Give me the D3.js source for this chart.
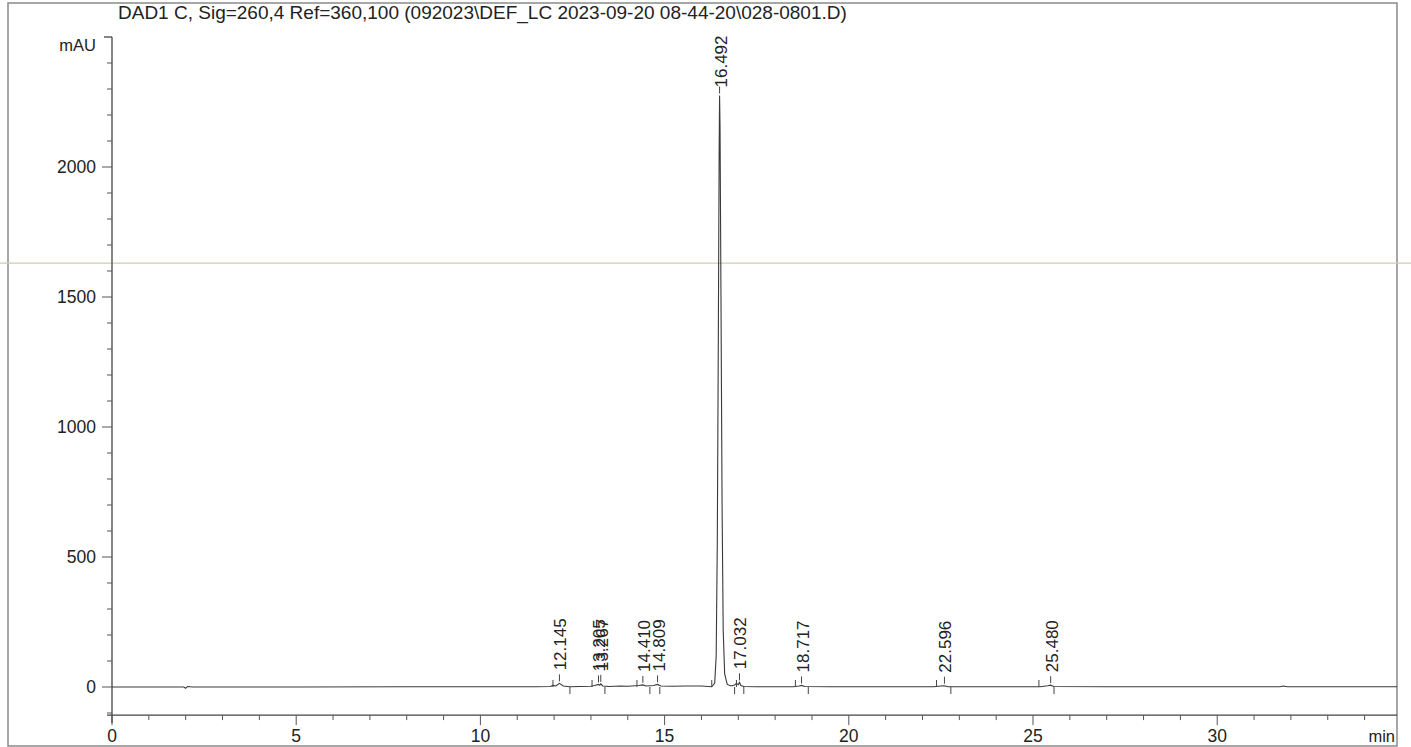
<!DOCTYPE html>
<html>
<head>
<meta charset="utf-8">
<script src="https://cdn.jsdelivr.net/npm/d3@7"></script>
<style>
  body { margin: 0; background: #fff; }
  svg { display: block; }
  text { font-family: "Liberation Sans", Arial, sans-serif; fill: #222; }
</style>
</head>
<body>
<div id="canvas"></div>
<script>
const title = "DAD1 C, Sig=260,4 Ref=360,100 (092023\\DEF_LC 2023-09-20 08-44-20\\028-0801.D)";

// signal trace (min, mAU)
const times = [0, 1.95, 2.0, 2.05, 2.12, 2.2, 5, 8, 10, 11.5, 11.9, 11.97, 12.05, 12.145, 12.25, 12.43,
  12.7, 13.0, 13.1, 13.205, 13.24, 13.267, 13.32, 13.5, 13.8, 14.0, 14.2, 14.3, 14.41, 14.5, 14.6,
  14.7, 14.809, 14.9, 15.2, 15.6, 16.0, 16.28, 16.36, 16.40, 16.43, 16.46, 16.48, 16.492, 16.505,
  16.53, 16.56, 16.59, 16.63, 16.7, 16.8, 16.9, 16.95, 17.0, 17.032, 17.07, 17.15, 17.5, 18.5,
  18.65, 18.717, 18.8, 19.5, 22.3, 22.5, 22.596, 22.7, 23.5, 25.2, 25.4, 25.48, 25.56, 27,
  31.7, 31.8, 31.9, 34.88];
const signal = [0, 0, -5, 2, 1, 0, 0, 1, 1, 1, 2, 6, 4, 14, 4, 1,
  2, 3, 6, 10, 7, 12, 4, 2, 4, 3, 5, 6, 8, 4, 5,
  6, 10, 4, 3, 4, 4, 1, 15, 120, 550, 1400, 2050, 2275, 2150,
  1500, 700, 220, 50, 10, 4, 8, 14, 9, 18, 6, 2, 1, 1,
  4, 6, 2, 1, 1, 4, 5, 1, 1, 1, 5, 7, 2, 1,
  1, 4, 1, 1];

// integrated peaks
const peakTimes = [12.145, 13.205, 13.267, 14.410, 14.809, 16.492, 17.032, 18.717, 22.596, 25.480];
const peakHeights = [14, 10, 12, 8, 10, 2275, 18, 6, 5, 7];
const peakStarts = [11.97, 13.03, 14.25, 16.28, 16.95, 18.55, 22.38, 25.16];
const peakEnds = [12.43, 13.38, 14.6, 14.87, 16.9, 17.15, 18.9, 22.77, 25.57];

const xTicks = [0, 5, 10, 15, 20, 25, 30];
const yTicks = [0, 500, 1000, 1500, 2000];

const W = 1411, H = 747;
const svg = d3.select('#canvas').append('svg').attr('width', W).attr('height', H);

const x = d3.scaleLinear().domain([0, 34.88]).range([112, 1397]);
const y = d3.scaleLinear().domain([0, 2500]).range([687, 37]);
const yAxisBottom = -108;

// frame
svg.append('rect')
   .attr('x', 8).attr('y', 3).attr('width', 1389).attr('height', 743)
   .attr('fill', 'none').attr('stroke', '#8a8a8a').attr('stroke-width', 1.5);

// faint scan line across the sheet
svg.append('line')
   .attr('x1', 0).attr('x2', W).attr('y1', y(1630)).attr('y2', y(1630))
   .attr('stroke', '#cfcdb0').attr('stroke-width', 1.2);

svg.append('text')
   .attr('x', 118).attr('y', 19)
   .attr('font-size', 19)
   .text(title);

// y axis
const yAxis = svg.append('g');
yAxis.append('line')
   .attr('x1', x(0)).attr('x2', x(0))
   .attr('y1', y(2500)).attr('y2', y(yAxisBottom) + 8)
   .attr('stroke', '#444').attr('stroke-width', 1.3);
yAxis.append('line')
   .attr('x1', x(0) - 8).attr('x2', x(0))
   .attr('y1', y(2500)).attr('y2', y(2500))
   .attr('stroke', '#444').attr('stroke-width', 1.3);
yAxis.selectAll('.ymin')
   .data(d3.range(-100, 2500, 100).filter(v => v > yAxisBottom && v % 500 !== 0))
   .enter().append('line')
   .attr('x1', x(0) - 5).attr('x2', x(0))
   .attr('y1', d => y(d)).attr('y2', d => y(d))
   .attr('stroke', '#555');
yAxis.selectAll('.ymaj')
   .data(yTicks)
   .enter().append('line')
   .attr('x1', x(0) - 10).attr('x2', x(0))
   .attr('y1', d => y(d)).attr('y2', d => y(d))
   .attr('stroke', '#555');
yAxis.selectAll('.ylab')
   .data(yTicks)
   .enter().append('text')
   .attr('x', x(0) - 16).attr('y', d => y(d))
   .attr('dy', '0.35em')
   .attr('text-anchor', 'end')
   .attr('font-size', 17.5)
   .text(d => d);
svg.append('text')
   .attr('x', 96).attr('y', 51)
   .attr('text-anchor', 'end')
   .attr('font-size', 16.5)
   .text('mAU');

// x axis
const xAxis = svg.append('g');
xAxis.append('line')
   .attr('x1', x(0) - 5).attr('x2', x(34.88))
   .attr('y1', y(yAxisBottom)).attr('y2', y(yAxisBottom))
   .attr('stroke', '#444').attr('stroke-width', 1.3);
xAxis.selectAll('.xmin')
   .data(d3.range(1, 35).filter(v => v % 5 !== 0))
   .enter().append('line')
   .attr('x1', d => x(d)).attr('x2', d => x(d))
   .attr('y1', y(yAxisBottom)).attr('y2', y(yAxisBottom) + 5)
   .attr('stroke', '#555');
xAxis.selectAll('.xmaj')
   .data(xTicks)
   .enter().append('line')
   .attr('x1', d => x(d)).attr('x2', d => x(d))
   .attr('y1', y(yAxisBottom)).attr('y2', y(yAxisBottom) + 10)
   .attr('stroke', '#555');
xAxis.selectAll('.xlab')
   .data(xTicks)
   .enter().append('text')
   .attr('x', d => x(d)).attr('y', 742)
   .attr('text-anchor', 'middle')
   .attr('font-size', 17.5)
   .text(d => d);
svg.append('text')
   .attr('x', 1395).attr('y', 742)
   .attr('text-anchor', 'end')
   .attr('font-size', 16.5)
   .text('min');

// trace
const line = d3.line()
   .x((d, i) => x(times[i]))
   .y(d => y(d));
svg.append('path')
   .datum(signal)
   .attr('d', line)
   .attr('fill', 'none')
   .attr('stroke', '#3a3a3a')
   .attr('stroke-width', 1.1);

// baseline markers
svg.selectAll('.pstart')
   .data(peakStarts)
   .enter().append('line')
   .attr('x1', d => x(d)).attr('x2', d => x(d))
   .attr('y1', y(0) - 7).attr('y2', y(0))
   .attr('stroke', '#444');
svg.selectAll('.pend')
   .data(peakEnds)
   .enter().append('line')
   .attr('x1', d => x(d)).attr('x2', d => x(d))
   .attr('y1', y(0)).attr('y2', y(0) + 7)
   .attr('stroke', '#444');

// peak labels
const peaks = peakTimes.map((t, i) => ({ t: t, h: peakHeights[i] }));
svg.selectAll('.ptick')
   .data(peaks)
   .enter().append('line')
   .attr('x1', d => x(d.t)).attr('x2', d => x(d.t))
   .attr('y1', d => y(d.h) - 2).attr('y2', d => y(d.h) - 9)
   .attr('stroke', '#444');
svg.selectAll('.plab')
   .data(peaks)
   .enter().append('text')
   .attr('transform', d => `translate(${x(d.t) + 7},${y(d.h) - (d.h > 100 ? 8 : 13)}) rotate(-90)`)
   .attr('font-size', 17)
   .text(d => d.t.toFixed(3));
</script>
</body>
</html>
